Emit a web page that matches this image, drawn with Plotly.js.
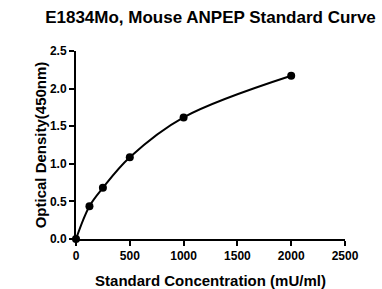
<!DOCTYPE html>
<html>
<head>
<meta charset="utf-8">
<script src="https://cdn.plot.ly/plotly-3.0.1.min.js"></script>
<style>html,body{margin:0;padding:0;background:#fff;}#chart{width:382px;height:289px;}</style>
</head>
<body>
<div id="chart"></div>
<script>
const concentration = [0, 125, 250, 500, 1000, 2000];
const opticalDensity = [0.0, 0.436, 0.68, 1.086, 1.617, 2.17];
const xTicks = [0, 500, 1000, 1500, 2000, 2500];
const yTicks = [0.0, 0.5, 1.0, 1.5, 2.0, 2.5];
const yTickText = ['0.0', '0.5', '1.0', '1.5', '2.0', '2.5'];

const font = 'Liberation Sans, Arial, sans-serif';

const traces = [
  {
    x: concentration, y: opticalDensity, mode: 'lines', type: 'scatter',
    line: {color: '#000', width: 2, shape: 'spline', smoothing: 1},
    hoverinfo: 'skip', cliponaxis: false
  },
  {
    x: concentration, y: opticalDensity, mode: 'markers', type: 'scatter',
    marker: {color: '#000', size: 8},
    cliponaxis: false
  }
];

const axisCommon = {
  showgrid: false, zeroline: false, showline: true, linecolor: '#000', linewidth: 2,
  ticks: 'outside', ticklen: 5, tickwidth: 2, tickcolor: '#000',
  tickfont: {family: font, size: 12, color: '#000', weight: 'bold'}
};

const layout = {
  width: 382, height: 289,
  margin: {l: 76, r: 37, t: 51, b: 50},
  paper_bgcolor: '#fff', plot_bgcolor: '#fff',
  showlegend: false,
  title: {text: 'E1834Mo, Mouse ANPEP Standard Curve', x: 0.5, xref: 'paper', y: 0.96, yref: 'container',
          font: {family: font, size: 17, color: '#000', weight: 'bold'}},
  xaxis: Object.assign({}, axisCommon, {
    range: [0, 2500], tickvals: xTicks, ticktext: xTicks.map(String),
    title: {text: 'Standard Concentration (mU/ml)', standoff: 14, font: {family: font, size: 15, color: '#000', weight: 'bold'}}
  }),
  yaxis: Object.assign({}, axisCommon, {
    range: [0, 2.5], tickvals: yTicks, ticktext: yTickText,
    title: {text: 'Optical Density(450nm)', standoff: 0, font: {family: font, size: 15, color: '#000', weight: 'bold'}}
  })
};

Plotly.newPlot('chart', traces, layout, {staticPlot: true, displayModeBar: false});
</script>
</body>
</html>
